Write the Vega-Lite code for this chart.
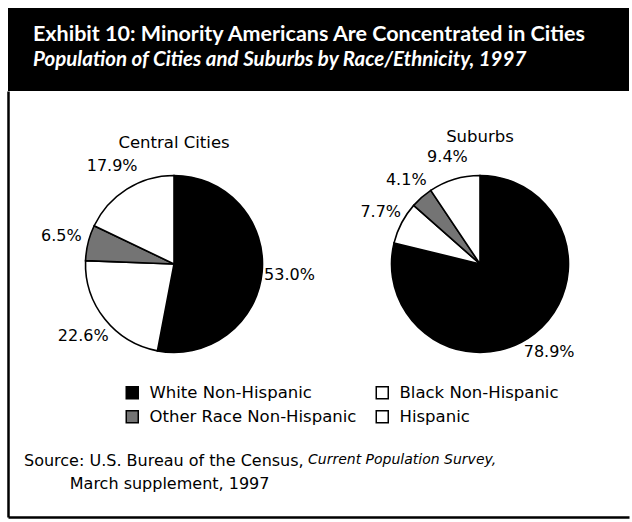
{
  "$schema": "https://vega.github.io/schema/vega-lite/v6.json",
  "background": "white",
  "padding": {"left": 8, "top": 8, "right": 3, "bottom": 5},
  "spacing": 0,
  "bounds": "flush",
  "config": {"view": {"stroke": null}, "font": "DejaVu Sans"},
  "datasets": {
    "shares": [
      {"area": "Central Cities", "race": "White Non-Hispanic", "ord": 1, "share": 0.530},
      {"area": "Central Cities", "race": "Black Non-Hispanic", "ord": 2, "share": 0.226},
      {"area": "Central Cities", "race": "Other Race Non-Hispanic", "ord": 3, "share": 0.065},
      {"area": "Central Cities", "race": "Hispanic", "ord": 4, "share": 0.179},
      {"area": "Suburbs", "race": "White Non-Hispanic", "ord": 1, "share": 0.789},
      {"area": "Suburbs", "race": "Black Non-Hispanic", "ord": 2, "share": 0.077},
      {"area": "Suburbs", "race": "Other Race Non-Hispanic", "ord": 3, "share": 0.041},
      {"area": "Suburbs", "race": "Hispanic", "ord": 4, "share": 0.094}
    ]
  },
  "title": {
    "text": "Current Population Survey,",
    "orient": "bottom", "anchor": "start", "frame": "group",
    "dx": 300, "offset": -64, "limit": 800,
    "font": "DejaVu Sans", "fontSize": 14, "fontStyle": "italic", "fontWeight": "normal", "color": "black"
  },
  "vconcat": [
    {
      "width": 621,
      "height": 83,
      "view": {"fill": "black", "stroke": null},
      "data": {"values": [{"t": ""}]},
      "mark": {"type": "text"},
      "encoding": {"text": {"field": "t", "type": "nominal"}},
      "title": {
        "text": "Exhibit 10: Minority Americans Are Concentrated in Cities",
        "subtitle": "Population of Cities and Suburbs by Race/Ethnicity, 1997",
        "orient": "bottom", "anchor": "start", "frame": "group",
        "dx": 25, "offset": -67, "limit": 800,
        "font": "Lato", "fontSize": 21.5, "fontWeight": "bold", "color": "white",
        "subtitleFont": "Lato", "subtitleFontSize": 20.5, "subtitleFontWeight": "bold", "subtitleFontStyle": "italic",
        "subtitleColor": "white", "subtitlePadding": 4.3
      }
    },
    {
      "width": 621,
      "height": 426,
      "data": {"name": "shares"},
      "title": {
        "text": "Source: U.S. Bureau of the Census,",
        "subtitle": "\u200b\u00a0\u00a0\u00a0\u00a0\u00a0\u00a0\u00a0\u00a0\u00a0March supplement, 1997",
        "orient": "bottom", "anchor": "start", "frame": "group",
        "dx": 16, "offset": -64, "limit": 800,
        "font": "DejaVu Sans", "fontSize": 16, "fontWeight": "normal", "color": "black",
        "subtitleFont": "DejaVu Sans", "subtitleFontSize": 16, "subtitleColor": "black", "subtitlePadding": 7
      },
      "encoding": {
        "x": {
          "field": "area", "type": "nominal",
          "scale": {"type": "point", "domain": ["Central Cities", "Suburbs"], "padding": 0.5147, "align": 0.527},
          "axis": {"orient": "bottom", "domain": true, "domainColor": "black", "domainWidth": 2.5, "ticks": false, "labels": false, "grid": false, "title": null}
        },
        "y": {
          "datum": "pies", "type": "nominal",
          "scale": {"type": "point", "align": 0.406},
          "axis": {"orient": "left", "domain": true, "domainColor": "black", "domainWidth": 2.5, "ticks": false, "labels": false, "grid": false, "title": null}
        }
      },
      "layer": [
        {
          "transform": [{"filter": {"field": "area", "equal": "Central Cities"}}],
          "layer": [
            {
              "mark": {"type": "arc", "outerRadius": 88.5, "stroke": "black", "strokeWidth": 1.6},
              "encoding": {
                "theta": {"field": "share", "type": "quantitative", "stack": "normalize"},
                "order": {"field": "ord", "type": "quantitative"},
                "color": {
                  "field": "race", "type": "nominal",
                  "scale": {"domain": ["White Non-Hispanic", "Other Race Non-Hispanic", "Black Non-Hispanic", "Hispanic"], "range": ["#000000", "#747474", "#ffffff", "#ffffff"]},
                  "legend": {"title": null, "orient": "none", "legendX": 116, "legendY": 376, "columns": 2, "symbolType": "square", "symbolSize": 144, "symbolStrokeColor": "black", "symbolStrokeWidth": 1.5, "symbolOpacity": 1, "labelFont": "DejaVu Sans", "labelFontSize": 16.5, "labelColor": "black", "labelOffset": 9, "columnPadding": 16, "rowPadding": 5.5, "padding": 0, "labelLimit": 400}
                }
              }
            },
            {
              "mark": {"type": "text", "radius": 116, "fontSize": 16, "font": "DejaVu Sans", "color": "black"},
              "encoding": {
                "theta": {"field": "share", "type": "quantitative", "stack": "normalize"},
                "order": {"field": "ord", "type": "quantitative"},
                "detail": {"field": "race", "type": "nominal"},
                "text": {"field": "share", "type": "quantitative", "format": ".1%"}
              }
            },
            {
              "transform": [{"filter": {"field": "ord", "equal": 1}}],
              "mark": {"type": "text", "dy": -121, "fontSize": 16.5, "font": "DejaVu Sans", "color": "black"},
              "encoding": {"text": {"field": "area", "type": "nominal"}}
            }
          ]
        },
        {
          "transform": [{"filter": {"field": "area", "equal": "Suburbs"}}],
          "layer": [
            {
              "mark": {"type": "arc", "outerRadius": 88.5, "stroke": "black", "strokeWidth": 1.6},
              "encoding": {
                "theta": {"field": "share", "type": "quantitative", "stack": "normalize"},
                "order": {"field": "ord", "type": "quantitative"},
                "color": {"field": "race", "type": "nominal"}
              }
            },
            {
              "mark": {"type": "text", "radius": 112, "fontSize": 16, "font": "DejaVu Sans", "color": "black"},
              "encoding": {
                "theta": {"field": "share", "type": "quantitative", "stack": "normalize"},
                "order": {"field": "ord", "type": "quantitative"},
                "detail": {"field": "race", "type": "nominal"},
                "text": {"field": "share", "type": "quantitative", "format": ".1%"}
              }
            },
            {
              "transform": [{"filter": {"field": "ord", "equal": 1}}],
              "mark": {"type": "text", "dy": -127, "fontSize": 16.5, "font": "DejaVu Sans", "color": "black"},
              "encoding": {"text": {"field": "area", "type": "nominal"}}
            }
          ]
        }
      ]
    }
  ]
}
